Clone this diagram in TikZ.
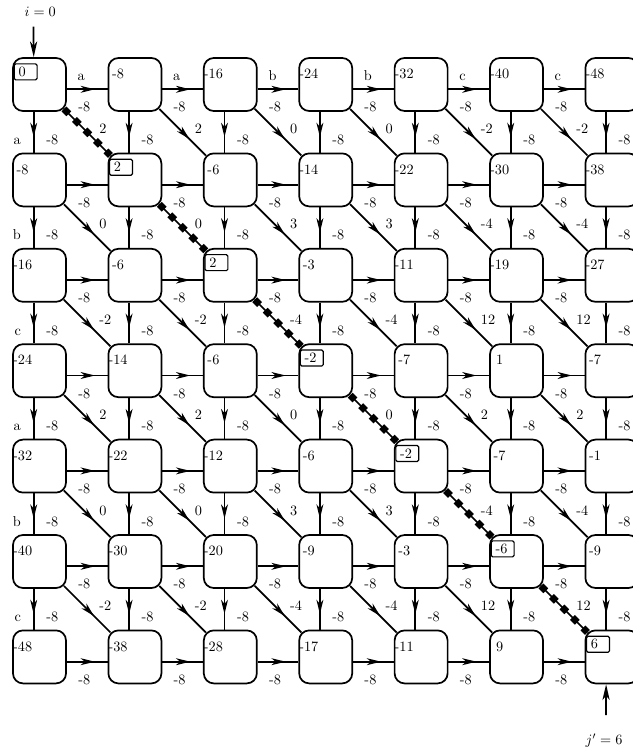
\documentclass[tikz,border=0pt]{standalone}
\usetikzlibrary{arrows.meta,decorations.markings}
\tikzset{
  cell/.style={draw, line width=1.2pt, rounded corners=7pt, minimum width=37.1pt, minimum height=37.1pt, inner sep=0pt},
  conn/.style={line width=1.2pt},
  mh/.style={postaction={decorate}, decoration={markings, mark=at position #1 with {\arrow{Stealth[length=10pt,width=4.8pt,inset=2.9pt]}}}},
  lab/.style={inner sep=0pt, text height=6.5pt, text depth=0pt},
  val/.style={inner sep=0pt, text height=6.5pt, text depth=0pt},
  hl/.style={draw, line width=0.8pt, rounded corners=1pt, text width=10pt, align=left, inner xsep=3pt, inner ysep=0pt, minimum height=11.2pt, text height=6.5pt, text depth=0pt},
  pathdots/.style={line width=4.8pt, dash pattern=on 4.8pt off 5.6pt},
  endtip/.style={-{Stealth[length=11pt,width=5pt,inset=3pt]}}
}
\begin{document}
\begin{tikzpicture}[x=0.7pt,y=-0.7pt]
\useasboundingbox (0,0) rectangle (632,751);
% cells
\foreach \row [count=\i from 0] in {{0,-8,-16,-24,-32,-40,-48},{-8,2,-6,-14,-22,-30,-38},{-16,-6,2,-3,-11,-19,-27},{-24,-14,-6,-2,-7,1,-7},{-32,-22,-12,-6,-2,-7,-1},{-40,-30,-20,-9,-3,-6,-9},{-48,-38,-28,-17,-11,9,6}}{
  \foreach \v [count=\j from 0] in \row {
    \node[cell] (n-\i-\j) at ({39.5+95.4*\j},{84.5+95.4*\i}) {};
    \ifnum\i=\j\relax
      \node[hl,anchor=west] (v-\i-\j) at ([shift={(1.05pt,-10.3pt)}]n-\i-\j.north west) {\v};
    \else
      \node[val] (v-\i-\j) at ([shift={(7.35pt,-11.9pt)}]n-\i-\j.north west) {\v};
    \fi
  }
}
% horizontal edges
\foreach \i in {0,...,6}{
  \foreach \j [evaluate=\j as \k using int(\j+1)] in {0,...,5}{
    \draw[conn,mh=0.69] ([yshift=-3.36pt]n-\i-\j.east) -- ([yshift=-3.36pt]n-\i-\k.west)
      node[lab,pos=0,anchor=west,xshift=7.4pt,yshift=-12.6pt]{-8};
  }
}
\foreach \j/\c in {0/a,1/a,2/b,3/b,4/c,5/c}
  \node[lab,anchor=west] (h-\j) at ([shift={(7.4pt,6.34pt)}]n-0-\j.east) {\c};
% vertical edges
\foreach \i [evaluate=\i as \k using int(\i+1)] in {0,...,5}{
  \foreach \j in {0,...,6}{
    \draw[conn,mh=0.62] ([xshift=-4.06pt]n-\i-\j.south) -- ([xshift=-4.06pt]n-\k-\j.north)
      node[lab,pos=0,anchor=west,xshift=8.2pt,yshift=-19.6pt]{-8};
  }
}
\foreach \i/\c in {0/a,1/b,2/c,3/a,4/b,5/c}
  \node[lab,anchor=east] (l-\i) at ([shift={(-12.86pt,-19.6pt)}]n-\i-0.south) {\c};
% diagonal edges
\foreach \row [count=\i from 0] in {{2,2,0,0,-2,-2},{0,0,3,3,-4,-4},{-2,-2,-4,-4,12,12},{2,2,0,0,2,2},{0,0,3,3,-4,-4},{-2,-2,-4,-4,12,12}}{
  \foreach \s [count=\j from 0] in \row {
    \pgfmathtruncatemacro\k{\i+1}
    \pgfmathtruncatemacro\l{\j+1}
    \ifnum\i=\j\relax
      \draw[conn] ([shift={(-2.05pt,2.05pt)}]n-\i-\j.south east) -- ([shift={(2.05pt,-2.05pt)}]n-\k-\l.north west)
        node[lab,pos=0,anchor=west,xshift=24.2pt,yshift=-13.9pt]{\s};
      \draw[pathdots] ([shift={(-2.05pt,2.05pt)}]n-\i-\j.south east) -- ([shift={(2.05pt,-2.05pt)}]n-\k-\l.north west);
    \else
      \draw[conn,mh=0.65] ([shift={(-2.05pt,2.05pt)}]n-\i-\j.south east) -- ([shift={(2.05pt,-2.05pt)}]n-\k-\l.north west)
        node[lab,pos=0,anchor=west,xshift=24.2pt,yshift=-13.9pt]{\s};
    \fi
  }
}
% entry and exit
\coordinate (top) at (33.5,26.7);
\draw[conn,endtip] (top) -- ([xshift=-4.06pt]n-0-0.north);
\node (ilab) at (40.3,12) {$i=0$};
\coordinate (bot) at (606,715);
\draw[conn,endtip] (bot) -- ([xshift=-4.06pt]n-6-6.south);
\node (jlab) at (604,741) {$j'=6$};
\end{tikzpicture}
\end{document}
